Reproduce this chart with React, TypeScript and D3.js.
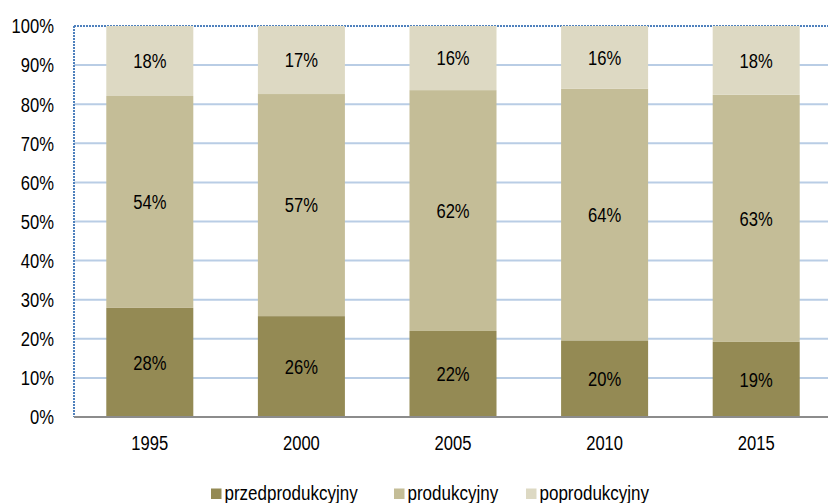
import React from "react";
import * as d3 from "d3";

const years = ["1995", "2000", "2005", "2010", "2015"];
const przed = [27.9, 25.8, 22.0, 19.6, 19.2];
const prod = [54.2, 56.8, 61.6, 64.4, 63.2];
const poprod = [17.9, 17.4, 16.4, 16.0, 17.6];
const seriesNames = ["przedprodukcyjny", "produkcyjny", "poprodukcyjny"];
const seriesColors = ["#948a54", "#c4bd97", "#ddd9c3"];
const yTicks = [0, 10, 20, 30, 40, 50, 60, 70, 80, 90, 100];

const W = 828;
const H = 503;
const left = 74;
const right = 832;
const top = 26;
const bottom = 417;
const font = "'Liberation Sans', Arial, sans-serif";
const fs = 21;

function T(props: { x: number; y: number; anchor?: string; sx?: number; size?: number; children: React.ReactNode }) {
  const sx = props.sx ?? 0.79;
  return (
    <text
      transform={`translate(${props.x},${props.y}) scale(${sx},1)`}
      dy="0.35em"
      textAnchor={props.anchor ?? "middle"}
      fontFamily={font}
      fontSize={props.size ?? fs}
      fill="#000"
    >
      {props.children}
    </text>
  );
}

export default function App() {
  const x = d3.scaleBand<string>().domain(years).range([left, right]).paddingInner(0.426).paddingOuter(0.213);
  const y = d3.scaleLinear().domain([0, 100]).range([bottom, top]);
  const rows = years.map((yr, i) => ({ year: yr, przed: przed[i], prod: prod[i], poprod: poprod[i] }));
  const stack = d3.stack<any>().keys(["przed", "prod", "poprod"]);
  const layers = stack(rows);

  const legendX = [211, 394, 526];

  return (
    <svg width={W} height={H} style={{ position: "absolute", left: 0, top: 0, background: "#fff" }}>
      {yTicks.filter((t) => t > 0 && t < 100).map((t) => (
        <line key={t} x1={left} x2={W} y1={y(t)} y2={y(t)} stroke="#b9cde5" strokeWidth={2} />
      ))}
      <line x1={left} x2={W} y1={y(100)} y2={y(100)} stroke="#4f81bd" strokeWidth={2} strokeDasharray="2,1" />
      <line x1={left} x2={left} y1={y(100)} y2={bottom} stroke="#4f81bd" strokeWidth={2} strokeDasharray="2,1" />
      {layers.map((layer, li) => (
        <g key={li}>
          {layer.map((d, i) => (
            <rect key={i} x={x(years[i])} width={x.bandwidth()} y={y(d[1])} height={y(d[0]) - y(d[1])} fill={seriesColors[li]} />
          ))}
        </g>
      ))}
      {layers.map((layer, li) => (
        <g key={"l" + li}>
          {layer.map((d, i) => (
            <T key={i} x={(x(years[i]) as number) + x.bandwidth() / 2} y={(y(d[0]) + y(d[1])) / 2}>
              {Math.round(d[1] - d[0]) + "%"}
            </T>
          ))}
        </g>
      ))}
      <line x1={left} x2={W} y1={bottom} y2={bottom} stroke="#8c8c8c" strokeWidth={2} />
      {yTicks.map((t) => (
        <T key={t} x={54} y={y(t)} anchor="end">
          {t + "%"}
        </T>
      ))}
      {years.map((yr) => (
        <T key={yr} x={(x(yr) as number) + x.bandwidth() / 2} y={443}>
          {yr}
        </T>
      ))}
      {seriesNames.map((n, i) => (
        <g key={n}>
          <rect x={legendX[i]} y={488.5} width={10.5} height={10.5} fill={seriesColors[i]} />
          <T x={legendX[i] + 13.5} y={492.5} anchor="start" sx={0.85} size={20}>
            {n}
          </T>
        </g>
      ))}
    </svg>
  );
}
